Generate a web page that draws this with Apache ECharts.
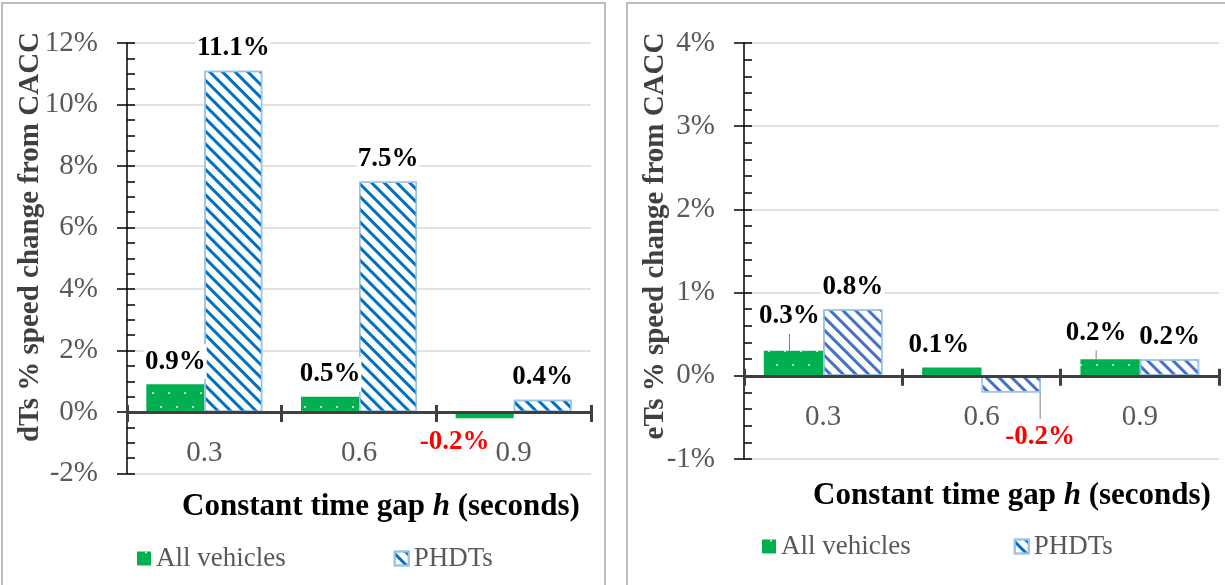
<!DOCTYPE html>
<html>
<head>
<meta charset="utf-8">
<script src="https://cdn.jsdelivr.net/npm/echarts@6/dist/echarts.min.js"></script>
<style>
  html, body { margin: 0; padding: 0; background: #ffffff; }
  #chart { width: 1225px; height: 585px; }
</style>
</head>
<body>
<div id="chart"></div>
<script>
// ---- data ----
const categories = ['0.3', '0.6', '0.9'];
const seriesNames = ['All vehicles', 'PHDTs'];
const dtsAllVehicles = [0.9, 0.5, -0.2];
const dtsPhdts = [11.1, 7.5, 0.4];
const etsAllVehicles = [0.3, 0.1, 0.2];
const etsPhdts = [0.8, -0.2, 0.2];
const dtsAxisTitle = 'dTs % speed change from CACC';
const etsAxisTitle = 'eTs % speed change from CACC';
const xTitleParts = ['Constant time gap ', 'h', ' (seconds)'];

// ---- styling ----
const SERIF = '"Liberation Serif", "Times New Roman", serif';
const GREEN = '#00b050';
const LABEL_GREY = '#595959';
const TITLE_GREY = '#404040';
const RED = '#ff0000';

// hand-placed data labels (offsets in px, relative to the default label spot)
const labelTweaks = {
  dtsAll: { 2: { position: 'bottom', dx: -30, dy: 1, color: RED } },
  dtsPhdts: {},
  etsAll: { 0: { dx: -4, dy: -12, line: true }, 1: { dx: -13, dy: 0 }, 2: { dx: -14, dy: -4, line: true } },
  etsPhdts: { 1: { position: 'bottom', dx: 29, dy: 22, color: RED, line: true } }
};

const dotDecal = {
  symbol: 'circle', symbolSize: 1, color: '#ffffff',
  dashArrayX: [[2, 14], [0, 8, 2, 6]], dashArrayY: [2, 12]
};
function stripeDecal(color) {
  return { symbol: 'rect', symbolSize: 1, color: color, dashArrayX: [1, 0], dashArrayY: [3, 6], rotation: Math.PI / 4 };
}

function buildData(values, tweaks) {
  return values.map((v, i) => {
    const t = tweaks[i] || {};
    return { value: v, label: { position: t.position, color: t.color }, labelLine: { show: !!t.line } };
  });
}

function barSeries(name, values, tweaks, axisIndex, style) {
  return {
    type: 'bar', name: name, data: buildData(values, tweaks),
    xAxisIndex: axisIndex, yAxisIndex: axisIndex,
    barGap: '0%', barCategoryGap: '25%',
    itemStyle: style,
    z: 2,
    label: {
      show: true, position: 'top', distance: 5,
      fontFamily: SERIF, fontWeight: 'bold', fontSize: 27, color: '#000000',
      backgroundColor: '#ffffff', padding: [4, 1],
      formatter: p => p.value.toFixed(1) + '%'
    },
    labelLine: { show: false, lineStyle: { color: '#808080', width: 1 } },
    labelLayout: p => {
      const t = tweaks[p.dataIndex];
      return t ? { dx: t.dx, dy: t.dy } : {};
    }
  };
}

function gridBox(left, top, width, height) {
  return { left: left, top: top, width: width, height: height, containLabel: false, outerBoundsMode: 'none' };
}

// main category axis: thick line on the zero value, ticks pointing down
function mainXAxis(gridIndex) {
  return {
    type: 'category', gridIndex: gridIndex, data: categories, z: 5,
    axisLine: { show: true, onZero: true, lineStyle: { color: '#404040', width: 3 } },
    axisTick: { show: true, length: 10, lineStyle: { color: '#404040', width: 3 } },
    axisLabel: { show: false }
  };
}
// upper half-grid whose bottom edge sits on zero: upward ticks and the category labels
function labelXAxis(gridIndex) {
  return {
    type: 'category', gridIndex: gridIndex, data: categories, z: 5,
    axisLine: { show: false, onZero: false },
    axisTick: { show: true, inside: true, length: 7, lineStyle: { color: '#404040', width: 3 } },
    axisLabel: { show: true, fontFamily: SERIF, fontSize: 29, color: LABEL_GREY, margin: 27 }
  };
}
function hiddenXAxis(gridIndex) {
  return { type: 'category', gridIndex: gridIndex, data: categories, show: false };
}
function mainYAxis(gridIndex, min, max, step) {
  return {
    type: 'value', gridIndex: gridIndex, min: min, max: max, interval: step,
    axisLine: { show: true, lineStyle: { color: '#000000', width: 1.5 } },
    axisTick: { show: true, length: 10, lineStyle: { color: '#000000', width: 1.5 } },
    axisLabel: { fontFamily: SERIF, fontSize: 29, color: LABEL_GREY, margin: 29, formatter: '{value}%' },
    splitLine: { show: true, lineStyle: { color: '#d9d9d9', width: 1.5 } }
  };
}
function innerTickYAxis(gridIndex, min, max, step, minorSplit) {
  return {
    type: 'value', gridIndex: gridIndex, min: min, max: max, interval: step,
    axisLine: { show: false },
    axisTick: { show: true, inside: true, length: 8, lineStyle: { color: '#000000', width: 1.5 } },
    minorTick: { show: true, splitNumber: minorSplit, length: 8, lineStyle: { color: '#000000', width: 1.5 } },
    axisLabel: { show: false },
    splitLine: { show: false }
  };
}
function hiddenYAxis(gridIndex, max) {
  return { type: 'value', gridIndex: gridIndex, min: 0, max: max, show: false };
}

// one panel = full grid (bars), overlay grid (inner y ticks), upper grid ending at zero (x labels)
function panelGrids(left, top, width, height, min, max) {
  const zeroHeight = height * max / (max - min);
  return [
    gridBox(left, top, width, height),
    gridBox(left, top, width, height),
    gridBox(left, top, width, zeroHeight)
  ];
}

function xTitle(x, y) {
  return {
    type: 'text', x: x, y: y, z: 10,
    style: {
      text: '{b|' + xTitleParts[0] + '}{i|' + xTitleParts[1] + '}{b|' + xTitleParts[2] + '}',
      align: 'center', verticalAlign: 'middle',
      rich: {
        b: { fontFamily: SERIF, fontWeight: 'bold', fontSize: 31, color: TITLE_GREY },
        i: { fontFamily: SERIF, fontWeight: 'bold', fontStyle: 'italic', fontSize: 31, color: TITLE_GREY }
      }
    }
  };
}
function yTitle(text, x, y) {
  return {
    type: 'text', x: x, y: y, rotation: Math.PI / 2, z: 10,
    style: {
      text: text, fontFamily: SERIF, fontWeight: 'bold', fontSize: 29, fill: TITLE_GREY,
      align: 'center', verticalAlign: 'middle'
    }
  };
}

function legendAt(left, top, gap) {
  return {
    left: left, top: top, orient: 'horizontal', icon: 'rect',
    itemWidth: 14, itemHeight: 14, itemGap: gap,
    data: seriesNames,
    textStyle: { fontFamily: SERIF, fontSize: 27, color: LABEL_GREY }
  };
}

const greenStyle = { color: GREEN, decal: dotDecal };
const leftStripe = { color: '#ffffff', borderColor: '#9dc3e6', borderWidth: 1.5, decal: stripeDecal('#0070c0') };
const rightStripe = { color: '#ffffff', borderColor: '#9dc3e6', borderWidth: 1.5, decal: stripeDecal('#4472c4') };

const option = {
  animation: false,
  backgroundColor: '#ffffff',
  grid: [].concat(
    panelGrids(127, 43, 464, 430.5, -2, 12),
    panelGrids(744, 43, 475, 416, -1, 4)
  ),
  xAxis: [
    mainXAxis(0), hiddenXAxis(1), labelXAxis(2),
    mainXAxis(3), hiddenXAxis(4), labelXAxis(5)
  ],
  yAxis: [
    mainYAxis(0, -2, 12, 2), innerTickYAxis(1, -2, 12, 2, 4), hiddenYAxis(2, 12),
    mainYAxis(3, -1, 4, 1), innerTickYAxis(4, -1, 4, 1, 5), hiddenYAxis(5, 4)
  ],
  legend: [legendAt(132, 540, 108), legendAt(757, 528, 103)],
  series: [
    barSeries(seriesNames[0], dtsAllVehicles, labelTweaks.dtsAll, 0, greenStyle),
    barSeries(seriesNames[1], dtsPhdts, labelTweaks.dtsPhdts, 0, leftStripe),
    barSeries(seriesNames[0], etsAllVehicles, labelTweaks.etsAll, 3, greenStyle),
    barSeries(seriesNames[1], etsPhdts, labelTweaks.etsPhdts, 3, rightStripe)
  ],
  graphic: [
    { type: 'rect', shape: { x: 2, y: 3, width: 603, height: 640 }, style: { fill: 'none', stroke: '#a6a6a6', lineWidth: 1.5 }, z: -1 },
    { type: 'rect', shape: { x: 627, y: 3, width: 640, height: 640 }, style: { fill: 'none', stroke: '#a6a6a6', lineWidth: 1.5 }, z: -1 },
    yTitle(dtsAxisTitle, 31, 237),
    yTitle(etsAxisTitle, 656, 236),
    xTitle(381, 507),
    xTitle(1012, 496)
  ]
};

const chart = echarts.init(document.getElementById('chart'), null, { renderer: 'canvas' });
chart.setOption(option);
</script>
</body>
</html>
